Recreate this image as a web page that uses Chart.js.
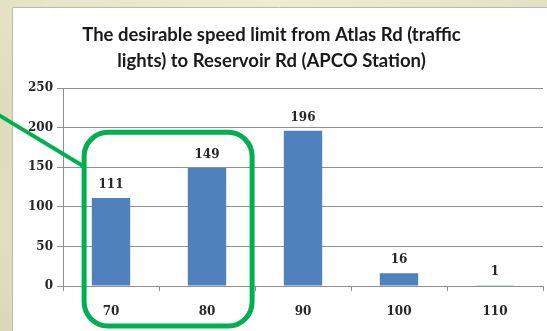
<!DOCTYPE html>
<html>
<head>
<meta charset="utf-8">
<script src="https://cdn.jsdelivr.net/npm/chart.js@4"></script>
<style>
  html, body { margin: 0; padding: 0; background: #e9e4c9; }
  #wrap { width: 547px; height: 331px; position: relative; }
</style>
</head>
<body>
<div id="wrap"><canvas id="c" width="547" height="331"></canvas></div>
<script>
// Survey responses: preferred speed limit (km/h) and number of votes
const speedLimits = ['70', '80', '90', '100', '110'];
const votes = [111, 149, 196, 16, 1];
const yTicks = [0, 50, 100, 150, 200, 250];
const titleLines = [
  'The desirable speed limit from Atlas Rd (traffic',
  'lights) to Reservoir Rd (APCO Station)'
];

const BAR_BLUE = '#4f81bd';
const GRID_GREY = '#8f8f8f';
const HIGHLIGHT_GREEN = '#00b050';
const SERIF = "'DejaVu Serif', 'Liberation Serif', serif";

// Beige slide backdrop with the white chart panel on top
const backdrop = {
  id: 'backdrop',
  beforeDraw(chart) {
    const ctx = chart.ctx;
    const w = chart.width, h = chart.height;
    ctx.save();
    const g = ctx.createLinearGradient(0, 0, 0, h);
    g.addColorStop(0, '#efe9d0');
    g.addColorStop(0.35, '#e3dec2');
    g.addColorStop(0.7, '#e8e3c8');
    g.addColorStop(1, '#ddd9bc');
    ctx.fillStyle = g;
    ctx.fillRect(0, 0, w, h);
    const gx = ctx.createLinearGradient(0, 0, w, 0);
    gx.addColorStop(0, 'rgba(210,215,175,0.35)');
    gx.addColorStop(0.5, 'rgba(245,240,215,0.25)');
    gx.addColorStop(1, 'rgba(215,205,170,0.35)');
    ctx.fillStyle = gx;
    ctx.fillRect(0, 0, w, h);
    ctx.fillStyle = '#ffffff';
    ctx.fillRect(12, 7, w, h);
    ctx.strokeStyle = '#b9b9b9';
    ctx.lineWidth = 1;
    ctx.beginPath();
    ctx.moveTo(12.5, h);
    ctx.lineTo(12.5, 7.5);
    ctx.lineTo(w, 7.5);
    ctx.stroke();
    ctx.restore();
  }
};

// Value printed above each bar
const valueLabels = {
  id: 'valueLabels',
  afterDatasetsDraw(chart) {
    const ctx = chart.ctx;
    const meta = chart.getDatasetMeta(0);
    ctx.save();
    ctx.font = 'bold 12px ' + SERIF;
    ctx.fillStyle = '#262626';
    ctx.textAlign = 'center';
    ctx.textBaseline = 'alphabetic';
    meta.data.forEach((bar, i) => {
      ctx.fillText(String(votes[i]), bar.x, bar.y - 10);
    });
    ctx.restore();
  }
};

// Green callout framing the 70 and 80 columns
const callout = {
  id: 'callout',
  afterDraw(chart) {
    const xs = chart.scales.x, ys = chart.scales.y;
    const ctx = chart.ctx;
    const c0 = xs.getPixelForValue(0), c1 = xs.getPixelForValue(1);
    const cw = c1 - c0;
    const left = c0 - 0.28 * cw;
    const right = c1 + 0.47 * cw;
    const top = ys.getPixelForValue(194);
    const bottom = chart.height - 5;
    const r = 24;
    ctx.save();
    ctx.strokeStyle = HIGHLIGHT_GREEN;
    ctx.lineWidth = 5;
    ctx.beginPath();
    ctx.roundRect(left, top, right - left, bottom - top, r);
    ctx.stroke();
    ctx.lineWidth = 4;
    ctx.beginPath();
    ctx.moveTo(-4, ys.getPixelForValue(218));
    ctx.lineTo(left + 1, ys.getPixelForValue(150));
    ctx.stroke();
    ctx.restore();
  }
};

new Chart(document.getElementById('c'), {
  type: 'bar',
  data: {
    labels: speedLimits,
    datasets: [{
      data: votes,
      backgroundColor: BAR_BLUE,
      borderWidth: 0,
      categoryPercentage: 1,
      barPercentage: 0.4
    }]
  },
  options: {
    responsive: false,
    animation: false,
    events: [],
    layout: { padding: { left: 0, right: 4, top: 0, bottom: 0 } },
    plugins: {
      legend: { display: false },
      tooltip: { enabled: false },
      title: {
        display: true,
        text: titleLines,
        color: '#1a1a1a',
        font: { family: 'Lato', weight: 'bold', size: 18.5, lineHeight: 26 / 18.5 },
        padding: { top: 22, bottom: 14 }
      }
    },
    scales: {
      x: {
        grid: {
          offset: true,
          drawOnChartArea: false,
          drawTicks: true,
          tickLength: 5,
          color: GRID_GREY
        },
        border: { color: GRID_GREY, width: 1 },
        ticks: {
          color: '#262626',
          font: { family: SERIF, weight: 'bold', size: 12 },
          padding: 14,
          maxRotation: 0
        },
        afterFit(scale) { scale.height = 45; }
      },
      y: {
        min: 0,
        max: 250,
        afterBuildTicks(scale) { scale.ticks = yTicks.map(v => ({ value: v })); },
        grid: {
          color: GRID_GREY,
          tickLength: 6,
          drawTicks: true
        },
        border: { color: GRID_GREY, width: 1 },
        ticks: {
          color: '#262626',
          font: { family: SERIF, weight: 'bold', size: 12 },
          padding: 4
        },
        afterFit(scale) { scale.width = 63; }
      }
    }
  },
  plugins: [backdrop, valueLabels, callout]
});
</script>
</body>
</html>
